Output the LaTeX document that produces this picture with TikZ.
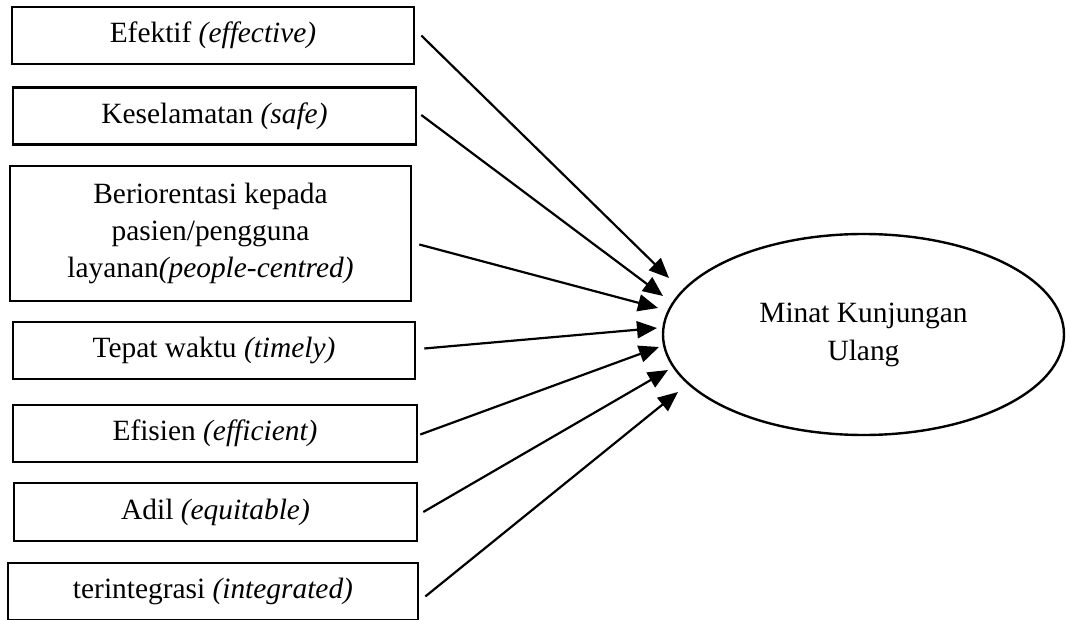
\documentclass[tikz,border=0pt]{standalone}
\usepackage{fontspec}
\setmainfont{Liberation Serif}
\usetikzlibrary{arrows.meta,shapes.geometric}
\begin{document}
\begin{tikzpicture}[x=1pt,y=-1pt,
  font=\fontsize{29.4}{36.7}\selectfont,
  box/.style={draw,line width=2.6pt,rectangle,inner sep=0pt,align=center},
  oval/.style={draw,line width=2.4pt,ellipse,inner sep=0pt,minimum width=401pt,minimum height=201pt,align=center,font=\fontsize{29.4}{38}\selectfont},
  arr/.style={line width=2.2pt,-{Triangle[length=20pt,width=17pt]}}]
\useasboundingbox (0,0) rectangle (1066,620);
\node[box,minimum width=402pt,minimum height=57pt] (b1) at (213,35.5) {Efektif \textit{(effective)}};
\node[box,minimum width=403pt,minimum height=57pt] (b2) at (214.5,116) {Keselamatan \textit{(safe)}};
\node[box,minimum width=401pt,minimum height=135pt] (b3) at (210.5,233.5) {Beriorentasi kepada\\pasien/pengguna\\layanan\textit{(people-centred)}};
\node[box,minimum width=402pt,minimum height=57pt] (b4) at (214,350.5) {Tepat waktu \textit{(timely)}};
\node[box,minimum width=404pt,minimum height=57pt] (b5) at (215,433.5) {Efisien \textit{(efficient)}};
\node[box,minimum width=403pt,minimum height=58pt] (b6) at (215.5,512) {Adil \textit{(equitable)}};
\node[box,minimum width=410pt,minimum height=57pt] (b7) at (213,591.5) {terintegrasi \textit{(integrated)}};
\node[oval] (m) at (863.5,334.5) {Minat Kunjungan\\Ulang};
\coordinate (t1) at (669,278);
\coordinate (t2) at (663,296);
\coordinate (t3) at (658,308);
\coordinate (t4) at (657,328);
\coordinate (t5) at (659,347);
\coordinate (t6) at (668,370);
\coordinate (t7) at (678,392);
\draw[arr] ([xshift=6pt]b1.east) -- (t1);
\draw[arr] ([xshift=4pt,yshift=1pt]b2.east) -- (t2);
\draw[arr] ([xshift=7pt,yshift=-11pt]b3.east) -- (t3);
\draw[arr] ([xshift=8pt,yshift=2pt]b4.east) -- (t4);
\draw[arr] ([xshift=2pt,yshift=-1pt]b5.east) -- (t5);
\draw[arr] ([xshift=5pt]b6.east) -- (t6);
\draw[arr] ([xshift=6pt,yshift=-5pt]b7.east) -- (t7);
\end{tikzpicture}
\end{document}
